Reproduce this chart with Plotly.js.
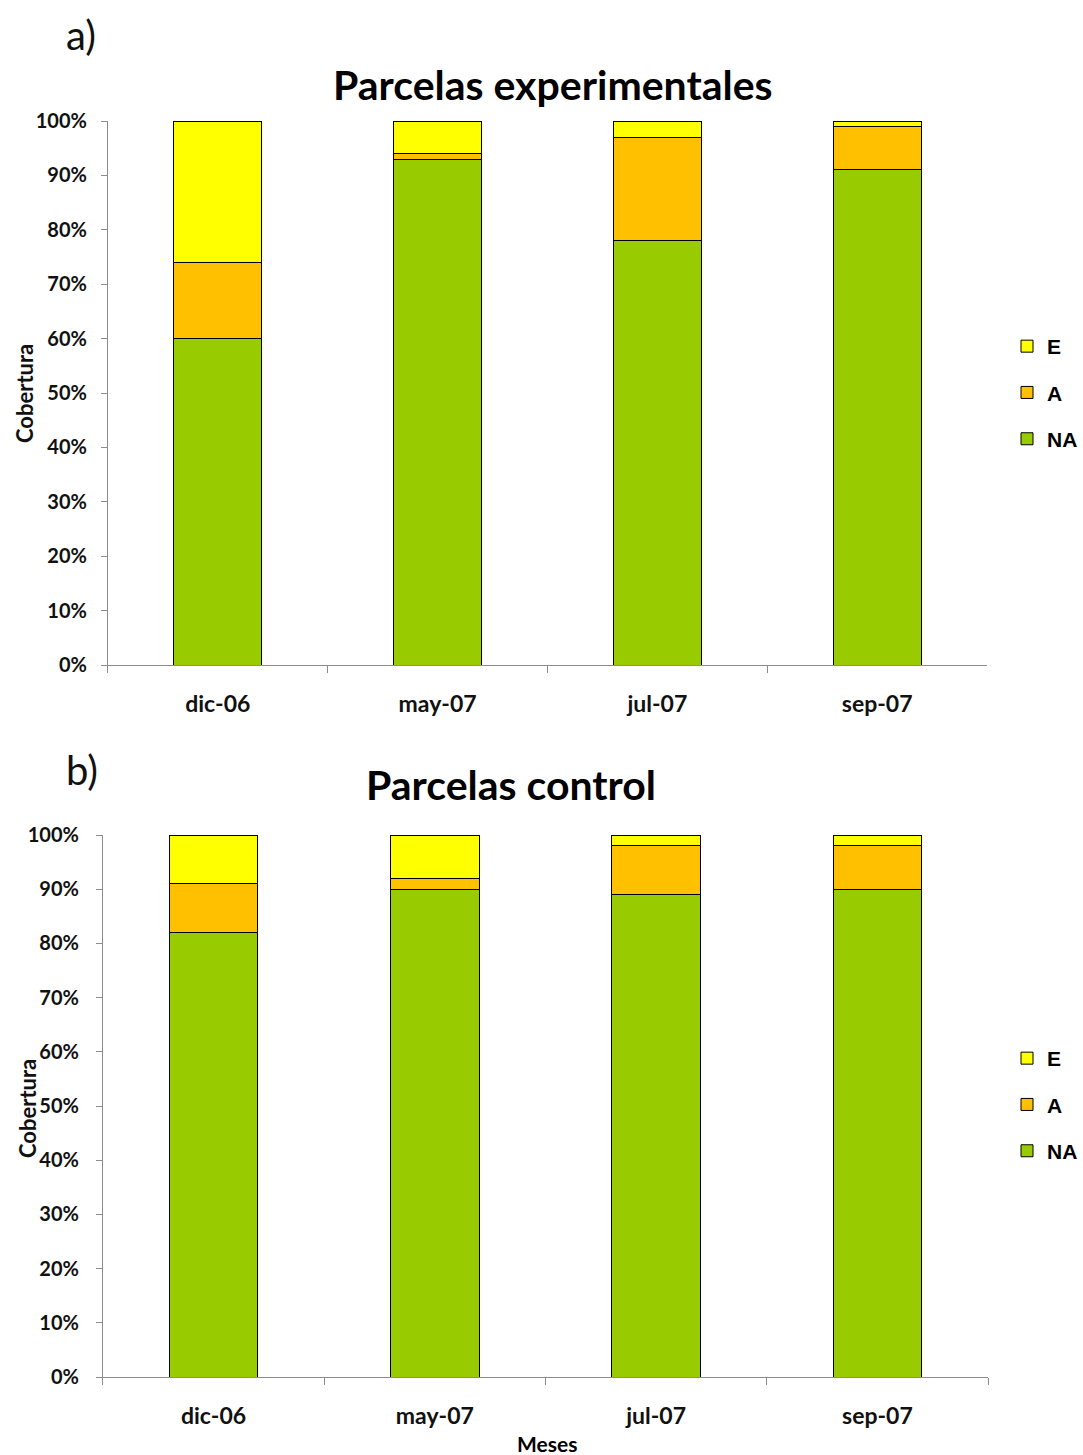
<!DOCTYPE html>
<html>
<head>
<meta charset="utf-8">
<script src="https://cdn.plot.ly/plotly-3.0.1.min.js"></script>
<style>
  html, body { margin: 0; padding: 0; background: #ffffff; }
  #chart { width: 1083px; height: 1455px; }
</style>
</head>
<body>
<div id="chart"></div>
<script>
// Months sampled
const meses = ['dic-06', 'may-07', 'jul-07', 'sep-07'];

// Cover (%) in experimental plots
const expNA = [60, 93, 78, 91];
const expA  = [14, 1, 19, 8];
const expE  = [26, 6, 3, 1];

// Cover (%) in control plots
const ctlNA = [82, 90, 89, 90];
const ctlA  = [9, 2, 9, 8];
const ctlE  = [9, 8, 2, 2];

// Y axis ticks
const yTicks = [0, 10, 20, 30, 40, 50, 60, 70, 80, 90, 100];
const yTickText = yTicks.map(v => '<b>' + v + '%</b>');
const xTickText = meses.map(m => '<b>' + m + '</b>');

const colors = { NA: '#99cc00', A: '#ffc000', E: '#ffff00' };
// Legend lists E on top, then A, then NA
const ranks = { E: 1, A: 2, NA: 3 };

const W = 1083, H = 1455;
const px = x => x / W;
const py = y => 1 - y / H;

function barTrace(name, x, y, xa, ya, legend) {
  return {
    type: 'bar',
    name: name,
    x: x,
    y: y,
    xaxis: xa,
    yaxis: ya,
    legend: legend,
    legendgroup: legend + name,
    legendrank: ranks[name],
    showlegend: true,
    width: 0.4,
    marker: { color: colors[name], line: { color: '#000000', width: 1 } },
    hovertemplate: '%{x}: %{y}%<extra>' + name + '</extra>'
  };
}

const data = [
  barTrace('NA', meses, expNA, 'x', 'y', 'legend'),
  barTrace('A', meses, expA, 'x', 'y', 'legend'),
  barTrace('E', meses, expE, 'x', 'y', 'legend'),
  barTrace('NA', meses, ctlNA, 'x2', 'y2', 'legend2'),
  barTrace('A', meses, ctlA, 'x2', 'y2', 'legend2'),
  barTrace('E', meses, ctlE, 'x2', 'y2', 'legend2')
];

const tickFontY = { family: 'Lato, sans-serif', size: 20, color: '#111111', weight: 700 };
const tickFontX = { family: 'Lato, sans-serif', size: 23, color: '#111111', weight: 700 };

function xAxis(domain, anchor) {
  return {
    domain: domain,
    anchor: anchor,
    type: 'category',
    range: [-0.5, 3.5],
    tickvals: meses,
    ticktext: xTickText,
    tickson: 'boundaries',
    ticks: 'outside',
    ticklen: 7,
    tickcolor: '#8c8c8c',
    showline: true,
    linecolor: '#8c8c8c',
    linewidth: 1,
    showgrid: false,
    zeroline: false,
    tickfont: tickFontX,
    ticklabelstandoff: 18,
    fixedrange: true
  };
}

function yAxis(domain, anchor, standoff) {
  return {
    domain: domain,
    anchor: anchor,
    range: [0, 100],
    tickvals: yTicks,
    ticktext: yTickText,
    ticks: 'outside',
    ticklen: 6,
    tickcolor: '#8c8c8c',
    showline: true,
    linecolor: '#8c8c8c',
    linewidth: 1,
    showgrid: false,
    zeroline: false,
    tickfont: tickFontY,
    ticklabelstandoff: standoff,
    fixedrange: true
  };
}

const legendCommon = {
  orientation: 'v',
  traceorder: 'grouped',
  tracegroupgap: 16,
  font: { family: '"Liberation Sans", Arial, sans-serif', size: 21, color: '#000000', weight: 700 },
  bgcolor: 'rgba(0,0,0,0)',
  xanchor: 'left',
  yanchor: 'top',
  itemclick: false,
  itemdoubleclick: false
};

const layout = {
  width: W,
  height: H,
  margin: { l: 0, r: 0, t: 0, b: 0 },
  paper_bgcolor: '#ffffff',
  plot_bgcolor: '#ffffff',
  barmode: 'stack',
  bargap: 0.6,
  showlegend: true,
  xaxis: xAxis([px(108), px(988)], 'y'),
  yaxis: yAxis([py(665), py(121)], 'x', 10),
  xaxis2: xAxis([px(103), px(989)], 'y2'),
  yaxis2: yAxis([py(1377), py(835)], 'x2', 13),
  legend: Object.assign({}, legendCommon, { x: px(1008), y: py(326) }),
  legend2: Object.assign({}, legendCommon, { x: px(1008), y: py(1038) }),
  annotations: [
    { text: 'a)', x: px(64), y: py(35), xref: 'paper', yref: 'paper', xanchor: 'left', yanchor: 'middle', showarrow: false,
      font: { family: 'Lato, sans-serif', size: 40, color: '#111111' } },
    { text: 'b)', x: px(64), y: py(770), xref: 'paper', yref: 'paper', xanchor: 'left', yanchor: 'middle', showarrow: false,
      font: { family: 'Lato, sans-serif', size: 40, color: '#111111' } },
    { text: '<b>Parcelas experimentales</b>', x: px(554), y: py(84), xref: 'paper', yref: 'paper', xanchor: 'center', yanchor: 'middle', showarrow: false,
      font: { family: 'Lato, sans-serif', size: 41, color: '#000000' } },
    { text: '<b>Parcelas control</b>', x: px(511), y: py(784), xref: 'paper', yref: 'paper', xanchor: 'center', yanchor: 'middle', showarrow: false,
      font: { family: 'Lato, sans-serif', size: 41, color: '#000000' } },
    { text: '<b>Cobertura</b>', x: px(25), y: py(393), xref: 'paper', yref: 'paper', xanchor: 'center', yanchor: 'middle', textangle: -90, showarrow: false,
      font: { family: 'Lato, sans-serif', size: 22, color: '#111111' } },
    { text: '<b>Cobertura</b>', x: px(27), y: py(1108), xref: 'paper', yref: 'paper', xanchor: 'center', yanchor: 'middle', textangle: -90, showarrow: false,
      font: { family: 'Lato, sans-serif', size: 22, color: '#111111' } },
    { text: '<b>Meses</b>', x: px(548), y: py(1443), xref: 'paper', yref: 'paper', xanchor: 'center', yanchor: 'middle', showarrow: false,
      font: { family: 'Lato, sans-serif', size: 21, color: '#000000', weight: 900 } }
  ]
};

Plotly.newPlot('chart', data, layout, { displayModeBar: false, staticPlot: true });
</script>
</body>
</html>
